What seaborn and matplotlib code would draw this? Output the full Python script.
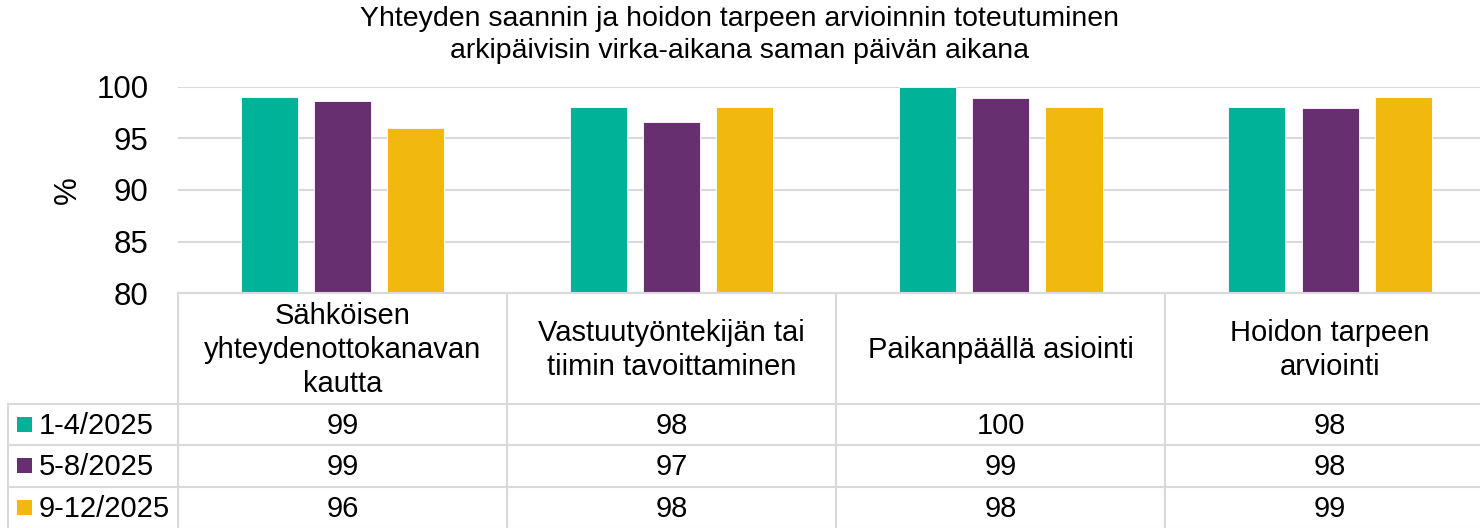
import numpy as np
import pandas as pd
import seaborn as sns
import matplotlib.pyplot as plt
from matplotlib.lines import Line2D
from matplotlib.patches import Rectangle

# ---- data ----
categories = ["Sähköisen\nyhteydenottokanavan\nkautta",
              "Vastuutyöntekijän tai\ntiimin tavoittaminen",
              "Paikanpäällä asiointi",
              "Hoidon tarpeen\narviointi"]
periods = ["1-4/2025", "5-8/2025", "9-12/2025"]
values_p1 = [99.0, 98.0, 100.0, 98.0]
values_p2 = [98.6, 96.6, 98.9, 97.9]
values_p3 = [96.0, 98.0, 98.0, 99.0]
colors = ["#00B398", "#672E70", "#F1B80E"]
title = "Yhteyden saannin ja hoidon tarpeen arvioinnin toteutuminen\narkipäivisin virka-aikana saman päivän aikana"
yticks = [80, 85, 90, 95, 100]

series = [values_p1, values_p2, values_p3]
df = pd.DataFrame({
    "cat": [c for _ in periods for c in categories],
    "period": [p for p in periods for _ in categories],
    "val": [v for s in series for v in s],
})

sns.set_style("white")
plt.rcParams['font.family'] = ['Liberation Sans', 'DejaVu Sans']
plt.rcParams['text.color'] = 'black'
plt.rcParams['ytick.color'] = 'black'

W, H = 1480, 528
fig = plt.figure(figsize=(W / 100, H / 100), dpi=100)
fy = lambda ypx: 1 - ypx / H
fx = lambda xpx: xpx / W

left_px, top_px, bot_px = 177.7, 86.7, 293.3
colw = 329.25
ax = fig.add_axes([fx(left_px), fy(bot_px), 4 * colw / W, (bot_px - top_px) / H])

sns.barplot(data=df, x="cat", y="val", hue="period", order=categories,
            hue_order=periods, palette=colors, saturation=1, width=0.667, gap=0.22,
            edgecolor="white", linewidth=0.6, legend=False, ax=ax)
ax.set_xlim(-0.5, 3.5)
ax.set_ylim(80, 100)
ax.set_yticks(yticks)
ax.set_yticklabels([str(t) for t in yticks], fontsize=22.5)
ax.tick_params(axis='y', length=0, pad=21)
ax.set_xticks([])
ax.set_xlabel("")
ax.set_ylabel("")
for s in ax.spines.values():
    s.set_visible(False)
ax.grid(axis='y', color='#D9D9D9', linewidth=1.5)
ax.set_axisbelow(True)

fig.text(fx(68), fy(190), "%", rotation=90, ha='center', va='center', fontsize=22.5)
fig.text(0.5, fy(35), title, ha='center', va='center', fontsize=20.5, linespacing=1.28)

# ---- data table ----
gc = '#D9D9D9'
lw = 1.5
def hline(y, x0, x1):
    fig.add_artist(Line2D([fx(x0), fx(x1)], [fy(y), fy(y)], color=gc, lw=lw))
def vline(x, y0, y1):
    fig.add_artist(Line2D([fx(x), fx(x)], [fy(y0), fy(y1)], color=gc, lw=lw))

header_top, header_bot = 293.3, 403.5
row_edges = [403.5, 445.0, 486.8, 528.5]
right_px = left_px + 4 * colw
hline(header_top, left_px, right_px)
for y in row_edges:
    hline(y, 8, right_px)
vline(left_px, header_top, H)
vline(8, header_bot, H)
for i in range(1, 5):
    vline(left_px + i * colw, header_top, H)

fs = 21
for i, c in enumerate(categories):
    cx = left_px + (i + 0.5) * colw
    fig.text(fx(cx), fy((header_top + header_bot) / 2 + 1.5), c, ha='center', va='center',
             fontsize=fs, linespacing=1.26)
    for r, s in enumerate(series):
        cy = (row_edges[r] + row_edges[r + 1]) / 2 + 1.5
        fig.text(fx(cx), fy(cy), f"{s[i]:.0f}", ha='center', va='center', fontsize=fs)

for r, p in enumerate(periods):
    cy = (row_edges[r] + row_edges[r + 1]) / 2
    fig.add_artist(Rectangle((fx(17), fy(cy + 7.5)), 15 / W, 15 / H,
                             transform=fig.transFigure, color=colors[r], lw=0))
    fig.text(fx(38.5), fy(cy + 1.5), p, ha='left', va='center', fontsize=fs)

fig.savefig("out.png", dpi=100)
